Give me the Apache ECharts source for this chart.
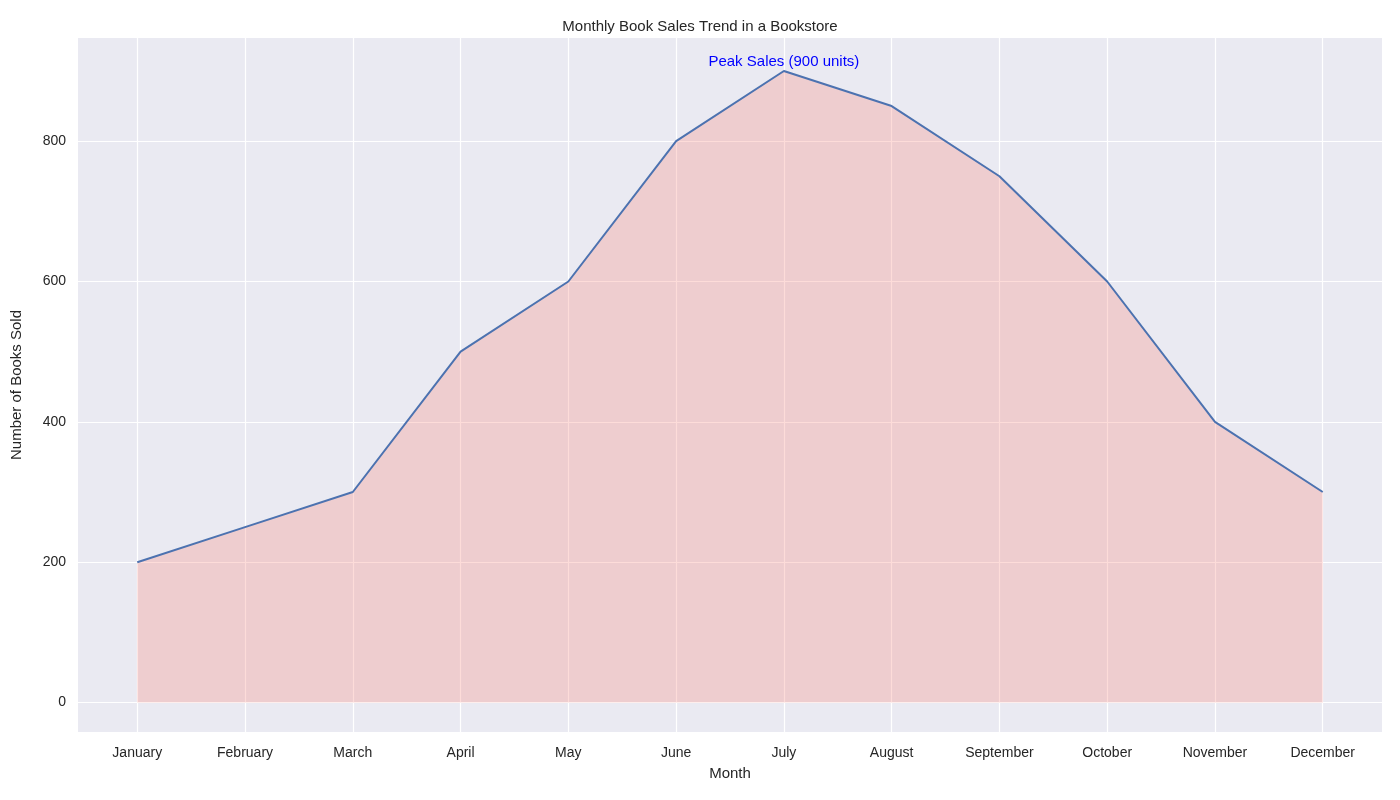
<!DOCTYPE html>
<html lang="en">
<head>
<meta charset="UTF-8">
<title>Monthly Book Sales Trend</title>
<script src="https://cdn.jsdelivr.net/npm/echarts@6/dist/echarts.min.js"></script>
</head>
<body style="margin:0">
<div id="main" style="width:1400px;height:800px;"></div>
<script>
var months = ['January','February','March','April','May','June','July','August','September','October','November','December'];
var sales = [200, 250, 300, 500, 600, 800, 900, 850, 750, 600, 400, 300];
var yTicks = [0, 200, 400, 600, 800];
var peakIndex = 6;

var lineData = sales.map(function (v, i) { return [i, v]; });

var gridLines = [];
yTicks.forEach(function (t) {
    gridLines.push({ yAxis: t, label: { position: 'start', formatter: String(t), distance: 12 } });
});
months.forEach(function (m, i) {
    gridLines.push({ xAxis: i, label: { position: 'start', formatter: m, distance: 14 } });
});

var chart = echarts.init(document.getElementById('main'));
chart.setOption({
    backgroundColor: '#fff',
    textStyle: { fontFamily: 'Liberation Sans' },
    title: {
        text: 'Monthly Book Sales Trend in a Bookstore', left: 'center', top: 14,
        textStyle: { fontSize: 15, fontWeight: 'normal', color: '#262626', fontFamily: 'Liberation Sans' }
    },
    grid: { left: 78, right: 18, top: 38, bottom: 68, show: true, backgroundColor: '#eaeaf2', borderWidth: 0 },
    xAxis: {
        type: 'value', min: -0.55, max: 11.55,
        axisLine: { show: false }, axisTick: { show: false }, axisLabel: { show: false }, splitLine: { show: false },
        name: 'Month', nameLocation: 'middle', nameGap: 34,
        nameTextStyle: { fontSize: 15, color: '#262626' }
    },
    yAxis: {
        type: 'value', min: -42, max: 947,
        axisLine: { show: false }, axisTick: { show: false }, axisLabel: { show: false }, splitLine: { show: false },
        name: 'Number of Books Sold', nameLocation: 'middle', nameGap: 54,
        nameTextStyle: { fontSize: 15, color: '#262626' }
    },
    series: [
        {
            type: 'line', data: [], z: 0, silent: true,
            markLine: {
                silent: true, symbol: 'none', animation: false, z: 0,
                lineStyle: { color: '#ffffff', width: 1.2, type: 'solid' },
                label: { color: '#262626', fontSize: 14, fontFamily: 'Liberation Sans' },
                data: gridLines
            }
        },
        {
            type: 'line', data: lineData, z: 5, symbol: 'none',
            lineStyle: { color: '#4c72b0', width: 2 },
            areaStyle: { color: 'rgba(249,129,117,0.4)', origin: 0 },
            markPoint: {
                symbol: 'circle', symbolSize: 0, silent: true,
                label: {
                    show: true, position: 'top', distance: 2,
                    formatter: 'Peak Sales (' + sales[peakIndex] + ' units)',
                    color: 'blue', fontSize: 15, fontFamily: 'Liberation Sans'
                },
                data: [{ coord: [peakIndex, sales[peakIndex]] }]
            }
        }
    ]
});
</script>
</body>
</html>
